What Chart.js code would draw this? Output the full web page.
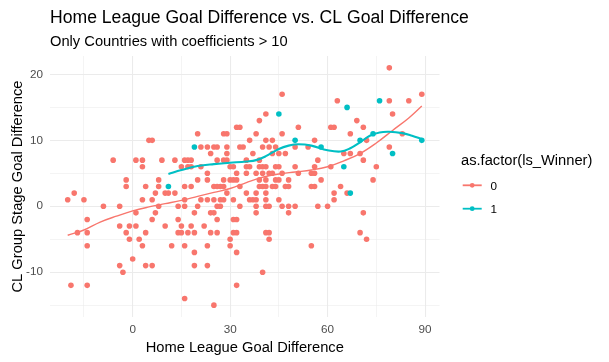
<!DOCTYPE html>
<html><head><meta charset="utf-8">
<script src="https://cdn.jsdelivr.net/npm/chart.js@4"></script>
<style>html,body{margin:0;padding:0;background:#fff}</style>
</head><body>
<canvas id="c" width="609" height="362"></canvas>
<script>
// ---- text ----
const titleText = "Home League Goal Difference vs. CL Goal Difference";
const subtitleText = "Only Countries with coefficients > 10";
const xTitle = "Home League Goal Difference";
const yTitle = "CL Group Stage Goal Difference";
const legendTitle = "as.factor(ls_Winner)";
const groupLabels = ["0", "1"];

// ---- ticks ----
const xGridValues = [-15, 0, 15, 30, 45, 60, 75, 90];
const xTickLabels = [0, 30, 60, 90];
const yGridValues = [-15, -10, -5, 0, 5, 10, 15, 20];
const yTickLabels = [-10, 0, 10, 20];

// ---- points, group 0 (not league winner) ----
const x0 = [5,6,-6,1,3,9,13,3,-2,8,-2,4,8,-18,7,10,11,13,-20,-15,3,6,-9,-4,8,14,7,1,-14,6,14,-4,-1,1,10,-17,-14,-2,4,14,-1,2,-14,3,12,0,-4,4,6,-3,-19,-14,
 46,41,39,51,32,33,20,28,29,38,46,36,41,43,21,23,25,26,29,33,34,40,42,44,24,29,37,43,45,47,16,17,18,26,28,29,35,39,15,17,18,21,30,31,35,36,39,40,41,44,45,50,23,32,35,38,40,42,43,46,20,23,28,30,31,32,39,41,44,45,48,16,18,25,26,27,28,33,39,40,41,43,44,47,48,29,35,38,41,16,21,23,25,27,28,31,36,37,38,41,45,16,20,26,27,33,38,41,42,46,48,50,19,24,25,38,48,26,31,32,15,18,22,15,17,19,24,26,31,32,41,42,30,42,16,23,30,19,32,19,23,40,32,16,25,
 79,63,79,85,89,69,80,61,62,71,67,83,56,72,50,54,79,57,71,65,67,70,56,75,61,51,55,56,74,58,55,56,64,62,66,62,57,60,71,70,72,55];
const y0 = [10,10,7,7,7,7,7,6,4,4,3,3,3,2,2,2,2,2,1,1,1,1,0,0,0,0,-1,-1,-2,-2,-2,-3,-3,-3,-3,-4,-4,-4,-4,-4,-5,-5,-6,-6,-6,-8,-9,-9,-9,-10,-12,-12,
 17,14,13,12,12,12,11,11,11,11,11,10,10,10,9,9,9,9,9,9,9,9,9,9,8,8,8,8,8,8,7,7,7,7,7,7,7,7,6,6,6,6,6,6,6,6,6,6,6,6,6,6,5,5,5,5,5,5,5,5,4,4,4,4,4,4,4,4,4,4,4,3,3,3,3,3,3,3,3,3,3,3,3,3,3,2,2,2,2,1,1,1,1,1,1,1,1,1,1,1,1,0,0,0,0,0,0,0,0,0,0,0,-1,-1,-1,-1,-1,-2,-2,-2,-3,-3,-3,-4,-4,-4,-4,-4,-4,-4,-4,-4,-5,-5,-6,-6,-6,-7,-7,-9,-9,-10,-12,-14,-15,
 21,16,16,16,17,13,14,12,12,12,11,11,10,10,9,9,9,7,7,8,8,8,6,6,6,5,5,5,4,4,3,3,3,2,2,1,0,0,-1,-4,-5,-6];

// ---- points, group 1 (league winner) ----
const x1 = [11,19,45,50,58,65,67,66,70,74,76,80,89];
const y1 = [3,9,14,10,9,6,2,15,10,11,16,8,10];

// ---- smoothed trend lines ----
const line0X = [-20,-15,-10,-5,0,5,10,15,20,25,30,35,40,45,50,55,60,65,70,75,80,85,89];
const line0Y = [-4.4,-3.6,-2.4,-1.5,-0.7,-0.1,0.4,0.9,1.5,2.1,2.7,3.6,4.4,4.9,5.2,5.5,6.0,6.9,8.0,9.6,11.5,13.4,15.2];
const line1X = [11,15,20,25,30,35,38,41,45,48,51,55,60,64,67,70,73,76,79,83,86,89];
const line1Y = [4.9,5.5,6.1,6.4,6.6,6.8,7.0,7.6,8.7,9.2,9.4,9.2,8.5,8.3,8.8,9.7,10.7,11.2,11.3,11.1,10.7,10.2];

const colors = ["#F8766D", "#00BFC4"];
const FONT = '"Liberation Sans", Arial, sans-serif';

const pts = (xs, ys) => xs.map((v, i) => ({x: v, y: ys[i]}));

const textPlugin = {
  id: 'texts',
  afterDraw(chart) {
    const ctx = chart.ctx;
    const ca = chart.chartArea;
    ctx.save();
    ctx.fillStyle = '#000';
    ctx.textAlign = 'left';
    ctx.textBaseline = 'alphabetic';
    ctx.font = '17.6px ' + FONT;
    ctx.fillText(titleText, ca.left, 22.5);
    ctx.font = '14.7px ' + FONT;
    ctx.fillText(subtitleText, ca.left, 45.5);
    ctx.textAlign = 'center';
    ctx.fillText(xTitle, (ca.left + ca.right) / 2, 352);
    ctx.save();
    ctx.translate(21.5, (ca.top + ca.bottom) / 2);
    ctx.rotate(-Math.PI / 2);
    ctx.fillText(yTitle, 0, 0);
    ctx.restore();
    // legend
    ctx.textAlign = 'left';
    ctx.fillText(legendTitle, 461, 164.5);
    const rows = [185.3, 208.7];
    rows.forEach((yy, i) => {
      ctx.strokeStyle = colors[i];
      ctx.lineWidth = 1.8;
      ctx.beginPath();
      ctx.moveTo(462.7, yy); ctx.lineTo(481.7, yy);
      ctx.stroke();
      ctx.fillStyle = colors[i];
      ctx.beginPath();
      ctx.arc(472.2, yy, 2.4, 0, Math.PI * 2);
      ctx.fill();
      ctx.fillStyle = '#000';
      ctx.font = '11.7px ' + FONT;
      ctx.fillText(groupLabels[i], 490.5, yy + 4.2);
    });
    ctx.restore();
  }
};

const gridWidth = (majors) => (c) => (c.tick && majors.includes(c.tick.value)) ? 1.07 : 0.53;

new Chart(document.getElementById('c'), {
  type: 'scatter',
  data: {
    datasets: [
      {type: 'line', data: pts(line1X, line1Y), borderColor: colors[1], borderWidth: 2.1, pointRadius: 0, tension: 0.4, fill: false},
      {type: 'line', data: pts(line0X, line0Y), borderColor: colors[0], borderWidth: 1.4, pointRadius: 0, tension: 0.4, fill: false},
      {data: pts(x1, y1), backgroundColor: colors[1], borderWidth: 0, pointRadius: 2.8},
      {data: pts(x0, y0), backgroundColor: colors[0], borderWidth: 0, pointRadius: 2.8}
    ]
  },
  options: {
    responsive: false,
    animation: false,
    events: [],
    devicePixelRatio: 1,
    layout: {padding: {left: 0, right: 169.5, top: 56, bottom: 0}},
    plugins: {legend: {display: false}, tooltip: {enabled: false}, title: {display: false}},
    scales: {
      x: {
        type: 'linear', min: -25.45, max: 94.45,
        afterBuildTicks: s => { s.ticks = xGridValues.map(v => ({value: v})); },
        afterFit: s => { s.height = 45; },
        ticks: {
          autoSkip: false, maxRotation: 0, padding: 6, color: '#4D4D4D',
          font: {family: FONT, size: 11.7},
          callback: v => xTickLabels.includes(v) ? String(v) : ''
        },
        grid: {color: '#EBEBEB', lineWidth: gridWidth(xTickLabels), drawTicks: false},
        border: {display: false}
      },
      y: {
        type: 'linear', min: -16.8, max: 22.8,
        afterBuildTicks: s => { s.ticks = yGridValues.map(v => ({value: v})); },
        afterFit: s => { s.width = 50; },
        ticks: {
          autoSkip: false, padding: 7, color: '#4D4D4D',
          font: {family: FONT, size: 11.7},
          callback: v => yTickLabels.includes(v) ? String(v) : ''
        },
        grid: {color: '#EBEBEB', lineWidth: gridWidth(yTickLabels), drawTicks: false},
        border: {display: false}
      }
    }
  },
  plugins: [textPlugin]
});
</script>
</body></html>
